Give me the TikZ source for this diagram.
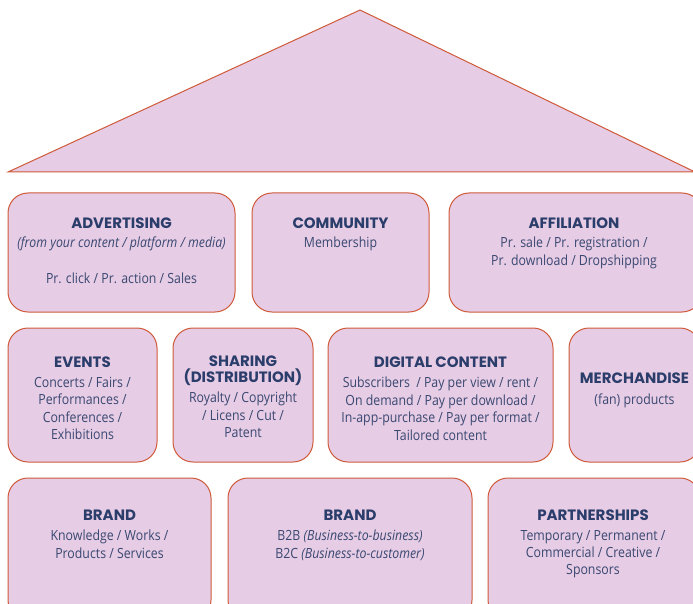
\documentclass[tikz,border=0pt]{standalone}
\usepackage{fontspec}
\setmainfont{Open Sans}[FakeStretch=0.88]
\newfontfamily\headfont{Poppins}
\usepackage{tikz}

\definecolor{panel}{HTML}{E6CCE4}
\definecolor{edge}{HTML}{CF5A3A}
\definecolor{ink}{HTML}{2B3D6B}
\definecolor{inksoft}{HTML}{3A4872}

\begin{document}
\begin{tikzpicture}[x=1pt,y=-1pt,
    block/.style={draw=edge, fill=panel, line width=1pt, rounded corners=20pt,
      inner sep=0pt, minimum width=#1},
    block/.default=100pt,
    head/.style={font=\headfont\bfseries\fontsize{15}{16}\selectfont, text=ink,
      align=center, inner sep=0pt},
    body/.style={font=\fontsize{14}{17.4}\selectfont, text=inksoft,
      align=center, inner sep=0pt, anchor=north}]
    % Page frame
    \useasboundingbox (0,0) rectangle (693,604);
    \clip (0,0) rectangle (693,604);

    % Roof
    \coordinate (eaveL) at (8,172);
    \coordinate (ridge) at (360,10);
    \coordinate (eaveR) at (695,172);
    \draw[draw=edge, fill=panel, line width=1pt] (eaveL) -- (ridge) -- (eaveR) -- cycle;

    % Top row
    \node[block=227pt, minimum height=119pt] (adv) at (121.5,252.5) {};
    \node[block=177pt, minimum height=119pt] (com) at (340.5,252.5) {};
    \node[block=253pt, minimum height=119pt] (aff) at (575.5,252.5) {};

    \node[head] (advT) at (121.5,223) {ADVERTISING};
    \node[body] (advB) at (121.5,237) {\textit{(from your content / platform / media)}\\[18pt]
      Pr. click / Pr. action / Sales};
    \node[head] (comT) at (340.5,223) {COMMUNITY};
    \node[body] (comB) at (340.5,237) {Membership};
    \node[head] (affT) at (574,223) {AFFILIATION};
    \node[body] (affB) at (574,237) {Pr. sale / Pr. registration /\\
      Pr. download / Dropshipping};

    % Middle row
    \node[block=149pt, minimum height=134pt] (eve) at (82.5,395) {};
    \node[block=140pt, minimum height=134pt] (sha) at (243,395) {};
    \node[block=225pt, minimum height=134pt] (dig) at (440.5,395) {};
    \node[block=131pt, minimum height=134pt] (mer) at (634.5,395) {};

    \node[head] (eveT) at (82.5,362) {EVENTS};
    \node[body] (eveB) at (82.5,377) {Concerts / Fairs /\\ Performances /\\
      Conferences /\\ Exhibitions};
    \node[head] (shaT) at (243,371) {SHARING\\(DISTRIBUTION)};
    \node[body] (shaB) at (243,392) {Royalty / Copyright\\ / Licens / Cut /\\ Patent};
    \node[head] (digT) at (440.5,362) {DIGITAL CONTENT};
    \node[body] (digB) at (440.5,377) {Subscribers~ / Pay per view / rent /\\
      On demand / Pay per download /\\ In-app-purchase / Pay per format /\\
      Tailored content};
    \node[head] (merT) at (634.5,378) {MERCHANDISE};
    \node[body] (merB) at (634.5,394) {(fan) products};

    % Bottom row
    \node[block=203pt, minimum height=142pt] (bra) at (109.5,549) {};
    \node[block=244pt, minimum height=142pt] (brb) at (350,549) {};
    \node[block=212pt, minimum height=142pt] (par) at (594,549) {};

    \node[head] (braT) at (109.5,515) {BRAND};
    \node[body] (braB) at (109.5,530) {Knowledge / Works /\\ Products / Services};
    \node[head] (brbT) at (350,515) {BRAND};
    \node[body] (brbB) at (350,530) {B2B \textit{(Business-to-business)}\\
      B2C \textit{(Business-to-customer)}};
    \node[head] (parT) at (593,515) {PARTNERSHIPS};
    \node[body] (parB) at (593,530) {Temporary / Permanent /\\
      Commercial / Creative /\\ Sponsors};
\end{tikzpicture}
\end{document}
